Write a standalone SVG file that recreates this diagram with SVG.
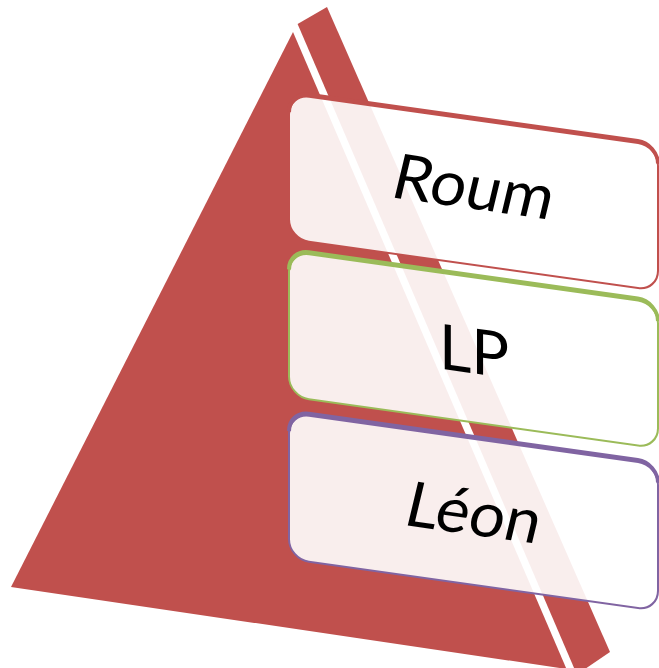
<svg xmlns="http://www.w3.org/2000/svg" width="659" height="668" viewBox="0 0 659 668">
  <style>
    .face { fill: #C0504D; }
    .box { fill: #FFFFFF; fill-opacity: 0.9; stroke-width: 2; }
    .top { fill: none; stroke-width: 4; }
    .lbl { font-family: Lato, "Liberation Sans", sans-serif; font-size: 63px; fill: #000000; text-anchor: middle; }
  </style>
  <rect width="659" height="668" fill="#FFFFFF"/>
  <g id="pyramid">
    <polygon class="face" points="293,32 566.5,669 11,587"/>
    <polygon class="face" points="297.6,24 327,7 610,652 585,669 574.5,669"/>
  </g>
  <g id="node-roum" transform="translate(289,94) skewY(8)">
    <rect class="box" x="0" y="0" width="369" height="145" rx="20" stroke="#C0504D"/>
    <path class="top" d="M0,20 A20,20 0 0 1 20,0 H349 A20,20 0 0 1 369,20" transform="translate(0,-2)" stroke="#C0504D"/>
    <text class="lbl" transform="translate(180,89) skewX(-13)" x="0" y="0">Roum</text>
  </g>
  <g id="node-lp" transform="translate(289,251.5) skewY(8)">
    <rect class="box" x="0" y="0" width="369" height="145" rx="20" stroke="#9BBB59"/>
    <path class="top" d="M0,20 A20,20 0 0 1 20,0 H349 A20,20 0 0 1 369,20" transform="translate(0,-2)" stroke="#9BBB59"/>
    <text class="lbl" transform="translate(185,96)" x="0" y="0">LP</text>
  </g>
  <g id="node-leon" transform="translate(289,413) skewY(8)">
    <rect class="box" x="0" y="0" width="369" height="146" rx="20" stroke="#8064A2"/>
    <path class="top" d="M0,20 A20,20 0 0 1 20,0 H349 A20,20 0 0 1 369,20" transform="translate(0,-2)" stroke="#8064A2"/>
    <text class="lbl" transform="translate(180,96) skewX(-13)" x="0" y="0">Léon</text>
  </g>
  <g id="connectors"/>
</svg>
